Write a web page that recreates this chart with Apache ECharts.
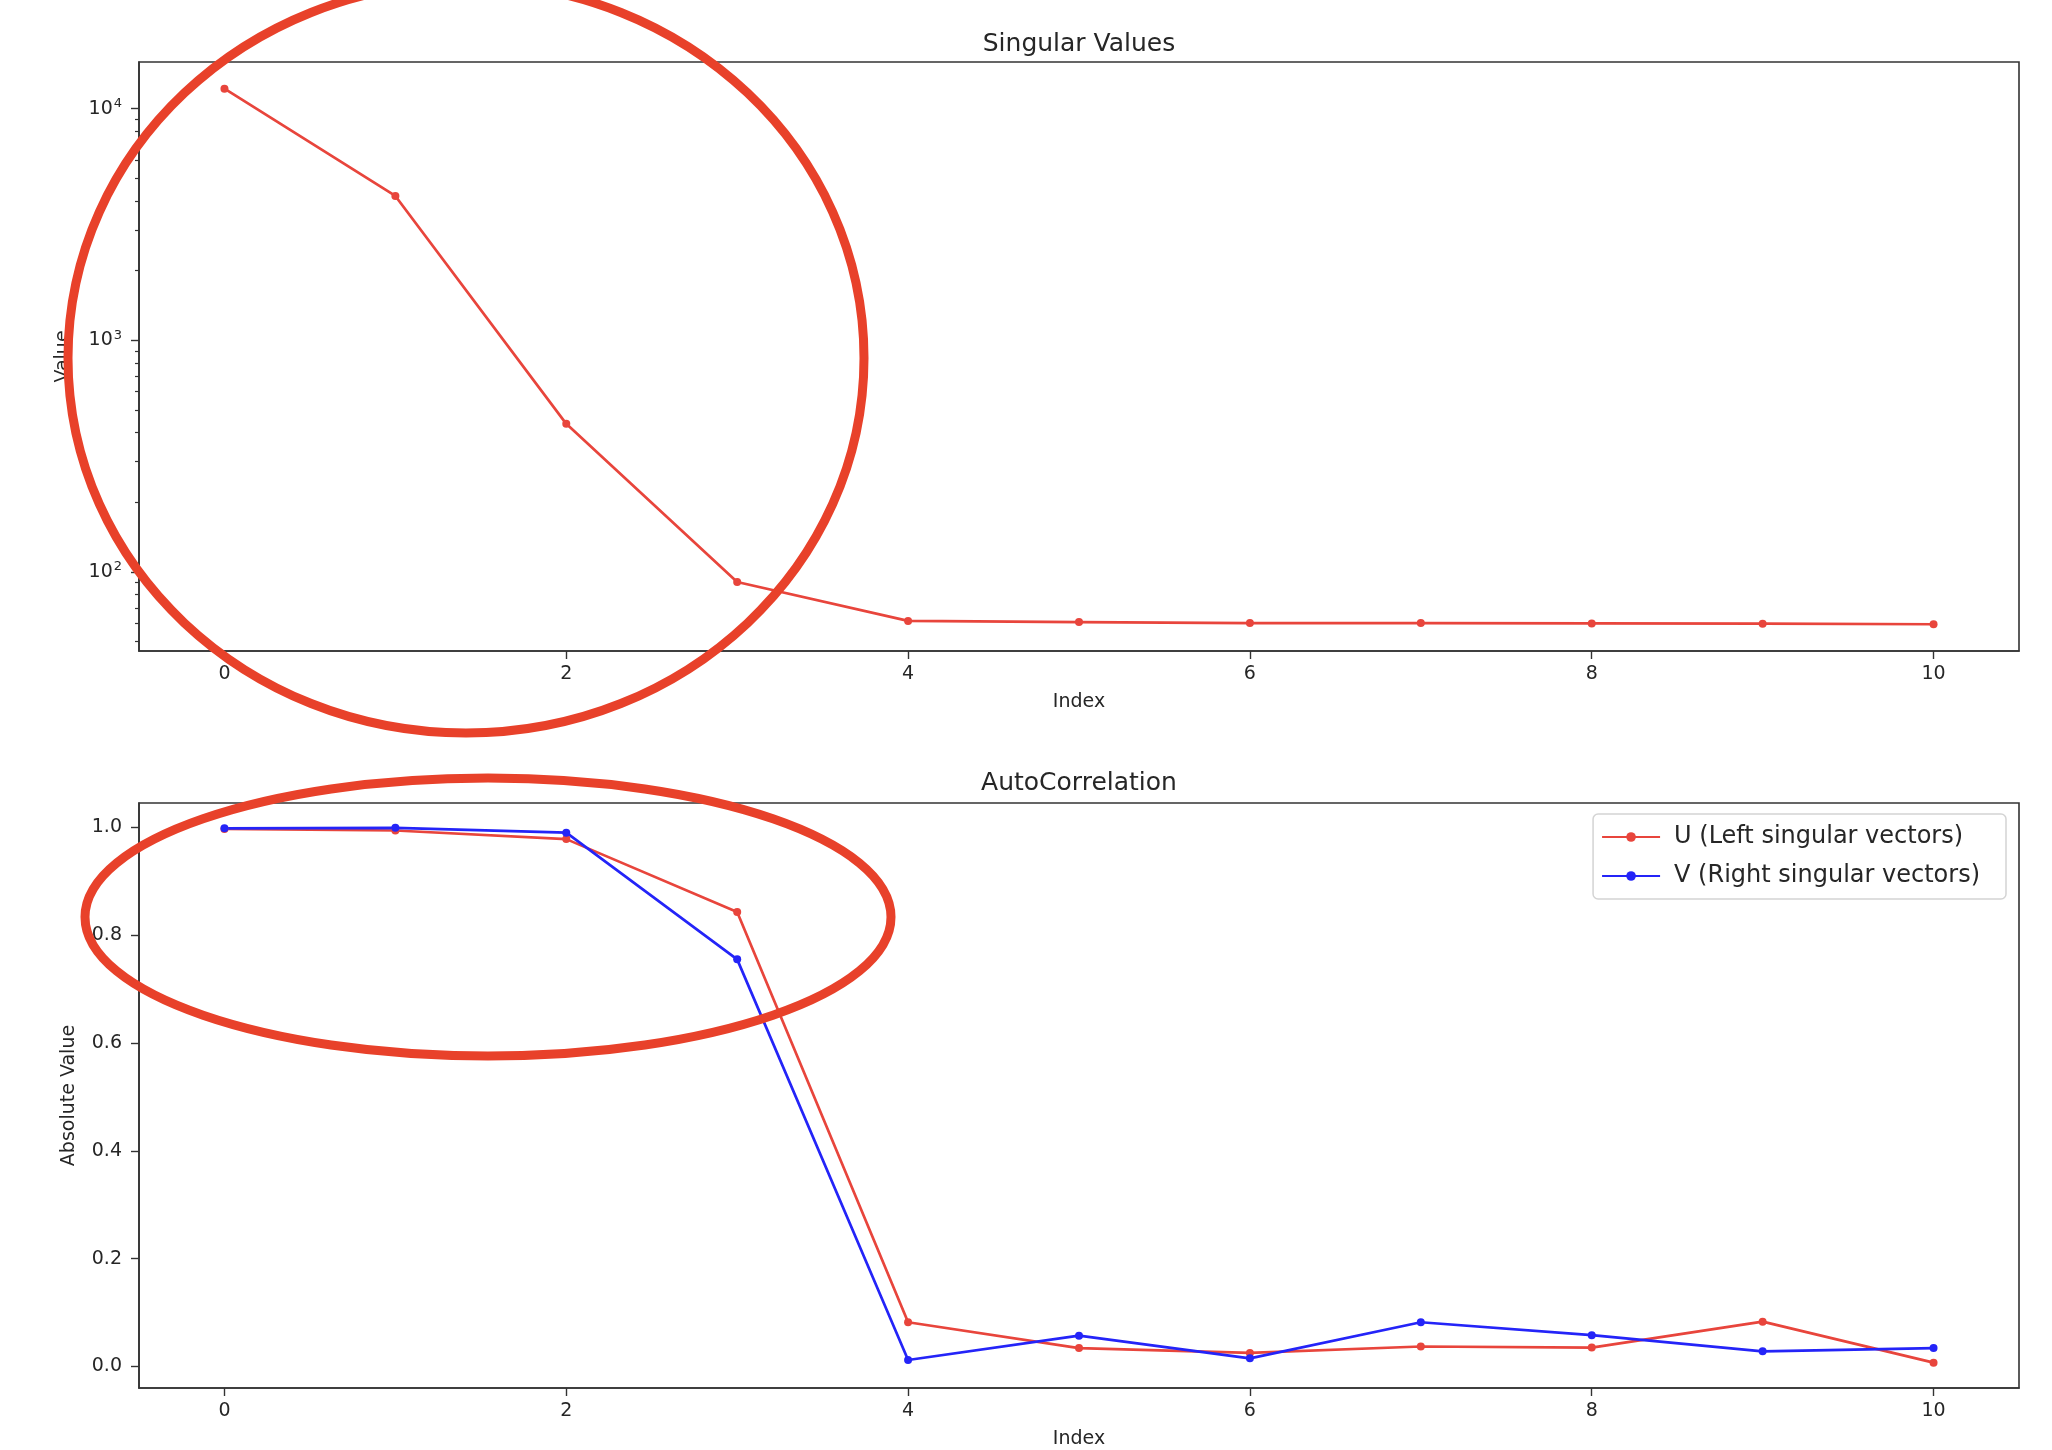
<!DOCTYPE html>
<html>
<head>
<meta charset="utf-8">
<title>Singular Values / AutoCorrelation</title>
<script src="https://cdn.jsdelivr.net/npm/echarts@6/dist/echarts.min.js"></script>
<style>
  html, body { margin: 0; padding: 0; background: #fff; }
  #main { width: 2052px; height: 1450px; }
</style>
</head>
<body>
<div id="main"></div>
<script>
// values
const indices = [0, 1, 2, 3, 4, 5, 6, 7, 8, 9, 10]
const singularValues = [12200, 4200, 436, 90.5, 61.5, 60.8, 60.2, 60.2, 60.0, 59.8, 59.5]
const uAutoCorr = [0.997, 0.994, 0.978, 0.843, 0.082, 0.034, 0.025, 0.037, 0.035, 0.083, 0.007]
const vAutoCorr = [0.998, 0.999, 0.990, 0.755, 0.012, 0.057, 0.015, 0.082, 0.058, 0.028, 0.034]

const xTicks = [0, 2, 4, 6, 8, 10]
const logMajorTicks = [100, 1000, 10000]
const logMinorTicks = [50, 60, 70, 80, 90, 200, 300, 400, 500, 600, 700, 800, 900,
  2000, 3000, 4000, 5000, 6000, 7000, 8000, 9000]
const corrTicks = [0, 0.2, 0.4, 0.6, 0.8, 1.0]

const uName = 'U (Left singular vectors)'
const vName = 'V (Right singular vectors)'

const RED = '#e8453c'
const BLUE = '#2424f8'
const INK = '#262626'
const FONT = 'DejaVu Sans'

const pairs = (ys) => indices.map((x, i) => [x, ys[i]])

const xAxisBase = (gridIndex) => ({
  type: 'value',
  gridIndex,
  position: 'bottom',
  min: -0.5,
  max: 10.5,
  name: 'Index',
  nameLocation: 'middle',
  nameGap: 42,
  nameTextStyle: { fontFamily: FONT, fontSize: 19, color: INK },
  axisLine: { show: true, onZero: false, lineStyle: { color: '#333', width: 1.6 } },
  axisTick: { show: true, length: 8, customValues: xTicks, lineStyle: { color: '#333', width: 1.4 } },
  axisLabel: { customValues: xTicks, margin: 14, fontFamily: FONT, fontSize: 19, color: INK },
  splitLine: { show: false }
})

const chart = echarts.init(document.getElementById('main'))
chart.setOption({
  animation: false,
  backgroundColor: '#fff',
  title: [
    { text: 'Singular Values', left: 1074, top: 27, textAlign: 'center',
      textStyle: { fontFamily: FONT, fontSize: 25, fontWeight: 'normal', color: INK } },
    { text: 'AutoCorrelation', left: 1074, top: 766, textAlign: 'center',
      textStyle: { fontFamily: FONT, fontSize: 25, fontWeight: 'normal', color: INK } }
  ],
  grid: [
    { left: 139, top: 62, width: 1880, height: 589, show: true, borderColor: '#333', borderWidth: 1.6, backgroundColor: 'transparent' },
    { left: 139, top: 803, width: 1880, height: 587, show: true, borderColor: '#333', borderWidth: 1.6, backgroundColor: 'transparent' }
  ],
  legend: {
    data: [uName, vName],
    orient: 'vertical',
    right: 46,
    top: 814,
    itemWidth: 58,
    itemHeight: 12,
    itemGap: 15,
    padding: [11, 26, 11, 8],
    borderColor: '#d4d4d4',
    borderWidth: 1.5,
    borderRadius: 5,
    backgroundColor: 'rgba(255,255,255,0.8)',
    textStyle: { fontFamily: FONT, fontSize: 24, color: INK, padding: [0, 0, 0, 9] }
  },
  xAxis: [xAxisBase(0), xAxisBase(1)],
  yAxis: [
    {
      type: 'log',
      gridIndex: 0,
      position: 'left',
      logBase: 10,
      min: 45.6,
      max: 15900,
      name: 'Value',
      nameLocation: 'middle',
      nameGap: 66,
      nameTextStyle: { fontFamily: FONT, fontSize: 19, color: INK },
      axisLine: { show: true, onZero: false, lineStyle: { color: '#333', width: 1.6 } },
      axisTick: { show: true, length: 8, customValues: logMajorTicks, lineStyle: { color: '#333', width: 1.4 } },
      axisLabel: {
        customValues: logMajorTicks,
        margin: 17,
        fontFamily: FONT,
        fontSize: 19,
        color: INK,
        formatter: (v) => '10{sup|' + Math.round(Math.log10(v)) + '}',
        rich: { sup: { fontFamily: FONT, fontSize: 13, color: INK, padding: [0, 0, 10, 1] } }
      },
      splitLine: { show: false }
    },
    {
      // minor ticks of the log axis
      type: 'log',
      gridIndex: 0,
      position: 'left',
      offset: 0,
      logBase: 10,
      min: 45.6,
      max: 15900,
      axisLine: { show: false, onZero: false },
      axisTick: { show: true, length: 4, customValues: logMinorTicks, lineStyle: { color: '#333', width: 1.2 } },
      axisLabel: { show: false },
      splitLine: { show: false }
    },
    {
      type: 'value',
      gridIndex: 1,
      position: 'left',
      min: -0.04,
      max: 1.045,
      name: 'Absolute Value',
      nameLocation: 'middle',
      nameGap: 60,
      nameTextStyle: { fontFamily: FONT, fontSize: 19, color: INK },
      axisLine: { show: true, onZero: false, lineStyle: { color: '#333', width: 1.6 } },
      axisTick: { show: true, length: 8, customValues: corrTicks, lineStyle: { color: '#333', width: 1.4 } },
      axisLabel: {
        customValues: corrTicks,
        margin: 17,
        fontFamily: FONT,
        fontSize: 19,
        color: INK,
        formatter: (v) => v.toFixed(1)
      },
      splitLine: { show: false }
    }
  ],
  series: [
    {
      name: 'Singular Values',
      type: 'line',
      xAxisIndex: 0,
      yAxisIndex: 0,
      data: pairs(singularValues),
      symbol: 'circle',
      symbolSize: 8,
      itemStyle: { color: RED },
      lineStyle: { color: RED, width: 2.7 }
    },
    {
      name: uName,
      type: 'line',
      xAxisIndex: 1,
      yAxisIndex: 2,
      data: pairs(uAutoCorr),
      symbol: 'circle',
      symbolSize: 8,
      itemStyle: { color: RED },
      lineStyle: { color: RED, width: 2.7 }
    },
    {
      name: vName,
      type: 'line',
      xAxisIndex: 1,
      yAxisIndex: 2,
      data: pairs(vAutoCorr),
      symbol: 'circle',
      symbolSize: 8,
      itemStyle: { color: BLUE },
      lineStyle: { color: BLUE, width: 2.7 }
    }
  ],
  // hand-drawn highlight marks on top of the figure
  graphic: [
    { type: 'ellipse', z: 100, silent: true,
      shape: { cx: 466, cy: 358, rx: 398, ry: 375 },
      style: { fill: null, stroke: '#e8412a', lineWidth: 9 } },
    { type: 'ellipse', z: 100, silent: true,
      shape: { cx: 488, cy: 917, rx: 403, ry: 139 },
      style: { fill: null, stroke: '#e8412a', lineWidth: 9 } }
  ]
})
</script>
</body>
</html>
